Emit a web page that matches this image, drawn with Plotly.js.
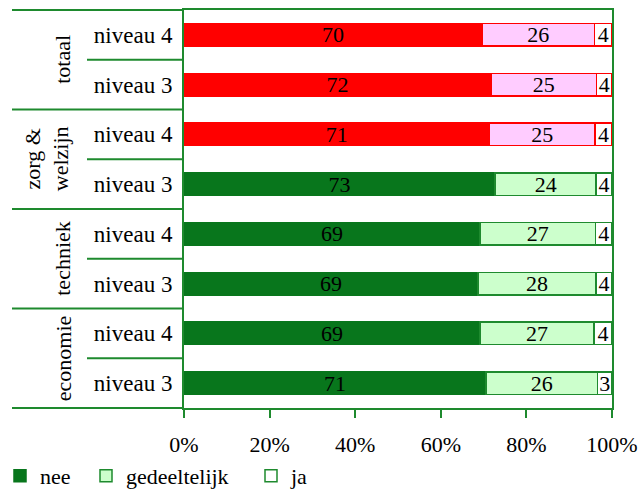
<!DOCTYPE html>
<html>
<head>
<meta charset="utf-8">
<script src="https://cdn.plot.ly/plotly-3.0.1.min.js"></script>
<style>html,body{margin:0;padding:0;background:#fff}#chart{width:638px;height:491px}</style>
</head>
<body>
<div id="chart"></div>
<script>
// Rows from bottom to top
const groups = ['economie', 'techniek', 'zorg &<br>welzijn', 'totaal'];
const rowGroup = [0, 0, 1, 1, 2, 2, 3, 3];
const levels = ['niveau 3', 'niveau 4', 'niveau 3', 'niveau 4', 'niveau 3', 'niveau 4', 'niveau 3', 'niveau 4'];
const nee = [70.6, 69.2, 68.7, 69.2, 72.7, 71.4, 71.7, 69.6];
const gedeeltelijk = [26.0, 26.6, 27.6, 26.9, 23.6, 24.6, 24.7, 26.3];
const ja = [3.4, 4.2, 3.7, 3.9, 3.7, 4.0, 3.6, 4.1];
const highlight = [0, 0, 0, 0, 0, 1, 1, 1];
const seriesNames = ['nee', 'gedeeltelijk', 'ja'];
const xTickVals = [0, 20, 40, 60, 80, 100];
const xTickText = ['0%', '20%', '40%', '60%', '80%', '100%'];

const FONT = 'Liberation Serif';
const GREEN_LINE = '#1E8A2E';
const DARK_GREEN = '#08761C';
const LIGHT_GREEN = '#CCFFCC';
const RED = '#FF0000';
const PINK = '#FFCCFF';

const ypos = levels.map((_, i) => i);
const n = levels.length;
const pick = (a, b) => highlight.map(h => h ? a : b);

const fills = [pick(RED, DARK_GREEN), pick(PINK, LIGHT_GREEN), pick('#FFFFFF', '#FFFFFF')];
const lines = [pick(RED, DARK_GREEN), pick(RED, GREEN_LINE), pick(RED, GREEN_LINE)];
const vals = [nee, gedeeltelijk, ja];
const legendIds = ['legend', 'legend2', 'legend3'];

const traces = vals.map((v, k) => ({
  type: 'bar',
  orientation: 'h',
  name: seriesNames[k],
  x: v,
  y: ypos,
  width: 0.45,
  text: v.map(x => String(Math.round(x))),
  textposition: 'inside',
  insidetextanchor: 'middle',
  textangle: 0,
  constraintext: 'none',
  textfont: {family: FONT, size: 22, color: '#000'},
  marker: {color: fills[k], line: {color: lines[k], width: 1.5}},
  legend: legendIds[k],
  hoverinfo: 'skip'
}));

const L = 184, R = 26, T = 10, B = 83;
const plotW = 638 - L - R;
const px2paper = p => (p - L) / plotW;

const shapes = [];
for (let k = 0; k <= n; k += 2) {
  shapes.push({type: 'line', xref: 'paper', yref: 'paper', x0: px2paper(12), x1: 0, y0: k / n, y1: k / n,
    line: {color: GREEN_LINE, width: 2}});
}
for (let k = 1; k < n; k += 2) {
  shapes.push({type: 'line', xref: 'paper', yref: 'paper', x0: px2paper(87), x1: 0, y0: k / n, y1: k / n,
    line: {color: GREEN_LINE, width: 2}});
}

const annotations = groups.map((g, gi) => {
  const rows = ypos.filter(i => rowGroup[i] === gi);
  const yc = rows.reduce((a, b) => a + b, 0) / rows.length;
  const multi = g.indexOf('<br>') >= 0;
  return {
    xref: 'paper', yref: 'y', x: px2paper(multi ? 47 : 63), y: yc, text: g, showarrow: false,
    textangle: -90, font: {family: FONT, size: 22, color: '#000'}, xanchor: 'center', yanchor: 'middle'
  };
});

const legendBase = {orientation: 'h', yanchor: 'top', xanchor: 'left', yref: 'container', xref: 'container',
  y: 1 - 455 / 491,
  font: {family: FONT, size: 22, color: '#000'}, bgcolor: 'rgba(0,0,0,0)', borderwidth: 0};

const layout = {
  width: 638, height: 491,
  margin: {l: L, r: R, t: T, b: B},
  paper_bgcolor: '#fff', plot_bgcolor: '#fff',
  barmode: 'stack',
  font: {family: FONT, size: 22, color: '#000'},
  showlegend: true,
  legend: Object.assign({}, legendBase, {x: -9 / 638}),
  legend2: Object.assign({}, legendBase, {x: 86 / 638}),
  legend3: Object.assign({}, legendBase, {x: 251 / 638}),
  xaxis: {
    range: [0, 100], tickvals: xTickVals, ticktext: xTickText,
    showgrid: false, zeroline: false, showline: true, mirror: true,
    linecolor: GREEN_LINE, linewidth: 2, ticks: 'outside', ticklen: 8, tickwidth: 2, tickcolor: GREEN_LINE,
    ticklabelstandoff: 8,
    tickfont: {family: FONT, size: 22, color: '#000'}, fixedrange: true
  },
  yaxis: {
    range: [-0.5, n - 0.5], tickvals: ypos, ticktext: levels,
    showgrid: false, zeroline: false, showline: true, mirror: true,
    linecolor: GREEN_LINE, linewidth: 2, ticks: 'outside', ticklen: 5, tickcolor: 'rgba(0,0,0,0)',
    tickfont: {family: FONT, size: 23, color: '#000'}, fixedrange: true
  },
  shapes: shapes,
  annotations: annotations
};

Plotly.newPlot('chart', traces, layout, {displayModeBar: false, staticPlot: true});
</script>
</body>
</html>
